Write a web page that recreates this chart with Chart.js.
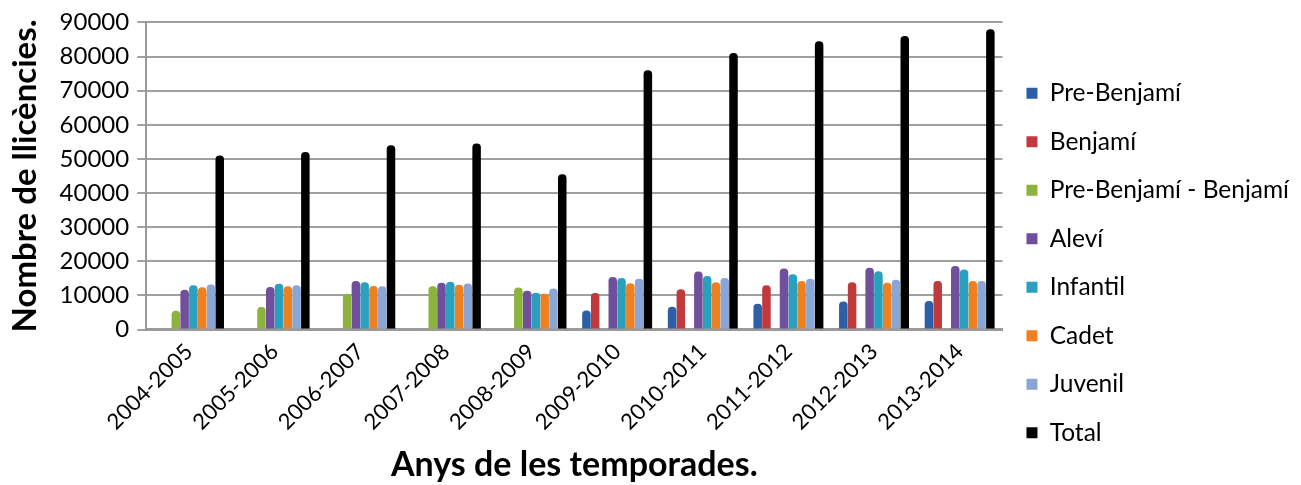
<!DOCTYPE html>
<html>
<head>
<meta charset="utf-8">
<script src="https://cdn.jsdelivr.net/npm/chart.js@4/dist/chart.umd.min.js"></script>
<style>
  html, body { margin: 0; padding: 0; background: #fff; }
  #wrap { width: 1301px; height: 485px; }
</style>
</head>
<body>
<div id="wrap"><canvas id="myChart"></canvas></div>
<script>
// temporades
var seasons = ["2004-2005", "2005-2006", "2006-2007", "2007-2008", "2008-2009",
               "2009-2010", "2010-2011", "2011-2012", "2012-2013", "2013-2014"];

// llicències per categoria (null = categoria inexistent aquella temporada)
var preBenjami      = [null, null, null, null, null, 5600, 6700, 7600, 8200, 8400];
var benjami         = [null, null, null, null, null, 10700, 11800, 13000, 13900, 14200];
var preBenjamiBenj  = [5500, 6600, 10500, 12700, 12300, null, null, null, null, null];
var alevi           = [11700, 12500, 14200, 13700, 11400, 15400, 17000, 17900, 18100, 18600];
var infantil        = [13000, 13400, 13900, 14000, 10800, 15100, 15700, 16200, 17100, 17600];
var cadet           = [12400, 12700, 12800, 13100, 10500, 13600, 13900, 14200, 13700, 14200];
var juvenil         = [13200, 13000, 12700, 13500, 12000, 14900, 15100, 14900, 14600, 14200];
var total           = [51000, 52000, 54000, 54500, 45500, 76000, 81000, 84500, 86000, 88000];

var yTicks = [0, 10000, 20000, 30000, 40000, 50000, 60000, 70000, 80000, 90000];

var fontName = "Lato, 'Open Sans', sans-serif";

function ds(label, values, color) {
    return {
        label: label,
        data: values,
        backgroundColor: color,
        borderColor: color,
        borderWidth: 0,
        borderRadius: { topLeft: 4, topRight: 4 },
        borderSkipped: 'bottom'
    };
}

var ctx = document.getElementById('myChart');

var myChart = new Chart(ctx, {
    type: 'bar',
    data: {
        labels: seasons,
        datasets: [
            ds("Pre-Benjamí", preBenjami, "#2c5fa6"),
            ds("Benjamí", benjami, "#c0393c"),
            ds("Pre-Benjamí - Benjamí", preBenjamiBenj, "#8cb33c"),
            ds("Aleví", alevi, "#704f9c"),
            ds("Infantil", infantil, "#2aa0bf"),
            ds("Cadet", cadet, "#ee8020"),
            ds("Juvenil", juvenil, "#8aa6d6"),
            ds("Total", total, "#000000")
        ]
    },
    options: {
        responsive: true,
        maintainAspectRatio: false,
        animation: false,
        layout: {
            padding: { left: 6, right: 2, top: 11, bottom: 0 }
        },
        datasets: {
            bar: {
                categoryPercentage: 0.82,
                barPercentage: 0.97
            }
        },
        plugins: {
            legend: {
                display: true,
                position: 'right',
                // empty title only pushes the items a bit lower, like in Excel
                title: {
                    display: true,
                    text: ' ',
                    padding: { top: 9, bottom: 9 },
                    font: { size: 10 }
                },
                labels: {
                    boxWidth: 11,
                    boxHeight: 11,
                    padding: 24,
                    color: '#000',
                    font: { family: fontName, size: 24.5 }
                }
            },
            tooltip: { enabled: false }
        },
        scales: {
            x: {
                grid: { display: false, drawTicks: false },
                border: { display: true, color: '#9a9a9a', width: 3 },
                ticks: {
                    color: '#000',
                    maxRotation: 45,
                    minRotation: 45,
                    padding: 9,
                    font: { family: fontName, size: 22 }
                },
                title: {
                    display: true,
                    text: "Anys de les temporades.",
                    color: '#000',
                    padding: { top: 0, bottom: 0 },
                    font: { family: fontName, size: 34, weight: 'bold' }
                }
            },
            y: {
                min: 0,
                max: 90000,
                afterBuildTicks: function(axis) {
                    axis.ticks = yTicks.map(function(v) { return { value: v }; });
                },
                grid: {
                    color: '#a0a0a0',
                    lineWidth: 2,
                    drawTicks: true,
                    tickLength: 9
                },
                border: { display: true, color: '#9a9a9a', width: 2 },
                ticks: {
                    color: '#000',
                    padding: 8,
                    font: { family: fontName, size: 24 },
                    callback: function(value) { return String(value); }
                },
                title: {
                    display: true,
                    text: "Nombre de llicències.",
                    color: '#000',
                    padding: { top: 0, bottom: 6 },
                    font: { family: fontName, size: 33, weight: 'bold' }
                }
            }
        }
    }
});
</script>
</body>
</html>
